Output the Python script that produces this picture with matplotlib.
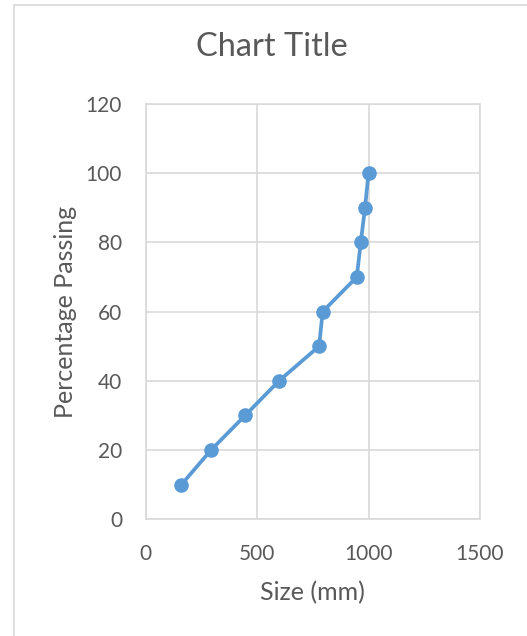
import matplotlib
matplotlib.use("Agg")
import matplotlib.pyplot as plt
from matplotlib.patches import Rectangle

size_mm = [160, 293, 446, 598, 778, 794, 947, 965, 984, 1000]
passing = [10, 20, 30, 40, 50, 60, 70, 80, 90, 100]
x_ticks = [0, 500, 1000, 1500]
y_ticks = [0, 20, 40, 60, 80, 100, 120]

plt.rcParams['font.family'] = ['Lato', 'DejaVu Sans']
txt = '#595959'
grid = '#D9D9D9'
blue = '#5B9BD5'

W, H = 527, 636
fig = plt.figure(figsize=(W / 100, H / 100), dpi=100)

# chart border (cropped)
fig.patches.append(Rectangle((14 / W, -0.1), 2, 1 - 5 / H + 0.1, transform=fig.transFigure,
                             fill=False, edgecolor=grid, linewidth=1.2))

x0, x1, y0, y1 = 145.7, 480, 104, 519.3
ax = fig.add_axes([x0 / W, 1 - y1 / H, (x1 - x0) / W, (y1 - y0) / H])
ax.plot(size_mm, passing, color=blue, linewidth=2.7, marker='o', markersize=9.5,
        markerfacecolor=blue, markeredgecolor=blue, zorder=3)
ax.set_xlim(0, 1500)
ax.set_ylim(0, 120)
ax.set_xticks(x_ticks)
ax.set_yticks(y_ticks)
ax.grid(True, color=grid, linewidth=1.2)
ax.set_axisbelow(True)
for s in ax.spines.values():
    s.set_color(grid)
    s.set_linewidth(1.2)
ax.tick_params(length=0, labelsize=15, colors=txt)
ax.tick_params(axis='x', pad=18)
ax.tick_params(axis='y', pad=17)

ax.set_xlabel('Size (mm)', fontsize=18, color=txt, va='center')
ax.xaxis.set_label_coords(0.5, (y1 - 593) / (y1 - y0))
ax.set_ylabel('Percentage Passing', fontsize=18, color=txt, va='center')
ax.yaxis.set_label_coords((66 - x0) / (x1 - x0), 0.5)
fig.text(272 / W, 1 - 47 / H, 'Chart Title', fontsize=23.5, color=txt, ha='center', va='center')

fig.savefig('out.png', dpi=100)
